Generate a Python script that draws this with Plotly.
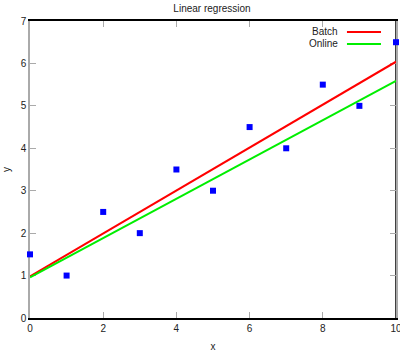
import plotly.graph_objects as go

x_points = [0, 1, 2, 3, 4, 5, 6, 7, 8, 9, 10]
y_points = [1.5, 1.0, 2.5, 2.0, 3.5, 3.0, 4.5, 4.0, 5.5, 5.0, 6.5]
line_x = [0, 10]
batch_y = [0.98, 6.04]
online_y = [0.96, 5.59]
x_ticks = [0, 2, 4, 6, 8, 10]
y_ticks = [0, 1, 2, 3, 4, 5, 6, 7]

FONT = "Liberation Sans"
fig = go.Figure()
fig.add_trace(go.Scatter(x=line_x, y=batch_y, mode="lines", name="Batch",
                         line=dict(color="#ff0000", width=2)))
fig.add_trace(go.Scatter(x=line_x, y=online_y, mode="lines", name="Online",
                         line=dict(color="#00ee00", width=2)))
fig.add_trace(go.Scatter(x=x_points, y=y_points, mode="markers", name="data",
                         marker=dict(symbol="square", size=6, color="#0000ff",
                                     line=dict(width=0)),
                         cliponaxis=False))

fig.update_layout(
    width=400, height=352,
    margin=dict(l=30, r=4, t=21, b=34),
    paper_bgcolor="white", plot_bgcolor="white",
    showlegend=False,
    font=dict(family=FONT, size=10, color="#222"),
    title=dict(text="Linear regression", x=0.53, xref="container", xanchor="center",
               y=0.985, yref="container", yanchor="top",
               font=dict(family=FONT, size=10, color="#222")),
)
fig.update_xaxes(range=[0, 10], tickvals=x_ticks, ticks="inside", ticklen=6,
                 tickcolor="#aaaaaa", tickwidth=1, showgrid=False, zeroline=False,
                 showline=True, linecolor="black", linewidth=1.5, mirror="all",
                 layer="below traces", automargin=False, ticklabeloverflow="allow",
                 title=dict(text="x", standoff=10, font=dict(size=10)))
fig.update_yaxes(range=[0, 7], tickvals=y_ticks, ticks="inside", ticklen=6,
                 tickcolor="#aaaaaa", tickwidth=1, showgrid=False, zeroline=False,
                 showline=True, linecolor="#aaaaaa", linewidth=1.5, mirror="all",
                 layer="below traces", automargin=False, ticklabeloverflow="allow",
                 title=dict(text="y", standoff=8, font=dict(size=10)))

# right border black
fig.add_shape(type="line", xref="paper", yref="paper", x0=1, x1=1, y0=0, y1=1,
              line=dict(color="black", width=1.5), layer="below")

# gnuplot-style key
legend_items = [("Batch", "#ff0000", 0.963), ("Online", "#00ee00", 0.9226)]
for name, color, yy in legend_items:
    fig.add_annotation(text=name, xref="paper", yref="paper", x=0.847, y=yy,
                       xanchor="right", yanchor="middle", showarrow=False,
                       font=dict(family=FONT, size=10, color="#222"))
    fig.add_shape(type="line", xref="paper", yref="paper", x0=0.866, x1=0.959,
                  y0=yy, y1=yy, line=dict(color=color, width=2))

fig.write_html("out.html")
